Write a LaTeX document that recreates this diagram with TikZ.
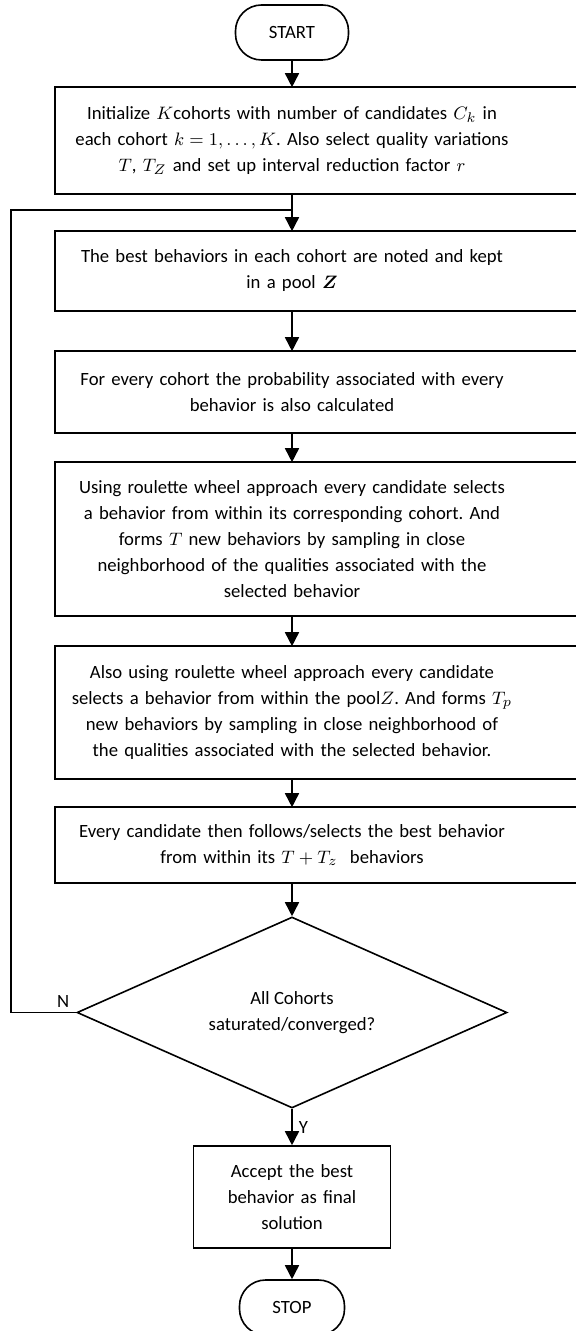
\documentclass[tikz,border=0pt]{standalone}
\usepackage{amsmath,amssymb}
\usepackage{bm}
\usepackage{fontspec}
\setmainfont{Carlito}
\usepackage{tikz}
\usetikzlibrary{positioning}
\usetikzlibrary{shapes.geometric,arrows.meta,calc}
\frenchspacing
\thickmuskip=5mu
\medmuskip=4mu
\tikzstyle{startstop} = [rectangle, rounded corners=13pt, minimum width=56.5pt, minimum height=27.5pt, text centered, draw=black]
\tikzstyle{process} = [rectangle, text width=270pt, inner sep=0pt, align=center]
\tikzstyle{decision} = [diamond, aspect=2.25, minimum width=215pt, minimum height=95.5pt, inner sep=1pt, align=center, draw=black]
\tikzstyle{result} = [rectangle, minimum width=98.5pt, minimum height=51pt, text width=88pt, align=center, draw=black]
\tikzstyle{arrow} = [-{Triangle[length=7pt,width=7pt]}]
\begin{document}
\begin{tikzpicture}[line width=0.8pt, every node/.style={font=\fontsize{9.35pt}{13pt}\selectfont}, node distance=60pt]
			\useasboundingbox (0,0) rectangle (288pt,-665.5pt);
			\clip (0,0) rectangle (288pt,-665.5pt);
			\coordinate (lft) at (27.5pt,0);
			\coordinate (rgt) at (320pt,0);
			\node (start) [startstop] at (146pt,-16.25pt) {START};
			\node (init) [process, below of=start, yshift=6pt, minimum height=52.5pt] {Initialize $K$cohorts with number of candidates $C_k$ in\\ each cohort $k=1,\dots,K$. Also select quality variations\\ $T$, $T_Z$ and set up interval reduction factor $r$};
			\node (best) [process, below of=init, yshift=-5.25pt, minimum height=39pt] {The best behaviors in each cohort are noted and kept\\ in a pool $\bm{Z}$};
			\node (prob) [process, below of=best, yshift=-0.5pt, minimum height=40pt] {For every cohort the probability associated with every\\ behavior is also calculated};
			\node (cand) [process, below of=prob, yshift=-13.5pt, minimum height=76pt] {Using roulette wheel approach every candidate selects\\ a behavior from within its corresponding cohort. And\\ forms $T$ new behaviors by sampling in close\\ neighborhood of the qualities associated with the\\ selected behavior};
			\node (pool) [process, below of=cand, yshift=-26.75pt, minimum height=65.5pt] {Also using roulette wheel approach every candidate\\ selects a behavior from within the pool$Z$. And forms $T_p$\\ new behaviors by sampling in close neighborhood of\\ the qualities associated with the selected behavior.};
			\node (follow) [process, below of=pool, yshift=-6.25pt, minimum height=37pt] {Every candidate then follows/selects the best behavior\\ from within its $T+T_z$\ \ behaviors};
			\node (dec) [decision, below of=follow, yshift=-23.75pt] {All Cohorts\\ saturated/converged?};
			\node (accept) [result, below of=dec, yshift=-32.25pt] {Accept the best\\ behavior as final\\ solution};
			\node (stop) [startstop, below of=accept, yshift=4.75pt, minimum width=52.5pt] {STOP};
			% boxes run past the right edge
			\foreach \n in {init,best,prob,cand,pool,follow}
				\draw (\n.north -| lft) rectangle (\n.south -| rgt);
			\coordinate (join) at ($(init.south)!0.44!(best.north)$);
			\draw [arrow] (start)--(init);
			\draw [arrow] (init)--(best);
			\draw [arrow] (best)--(prob);
			\draw [arrow] (prob)--(cand);
			\draw [arrow] (cand)--(pool);
			\draw [arrow] (pool)--(follow);
			\draw [arrow] (follow)--(dec);
			\draw (dec.west)--node[pos=0.2, above, inner sep=2pt]{N}+(-32.5pt,0)|-(join);
			\draw [arrow] (dec)--node[right, inner sep=3pt]{Y}(accept);
			\draw [arrow] (accept)--(stop);
		\end{tikzpicture}
\end{document}
